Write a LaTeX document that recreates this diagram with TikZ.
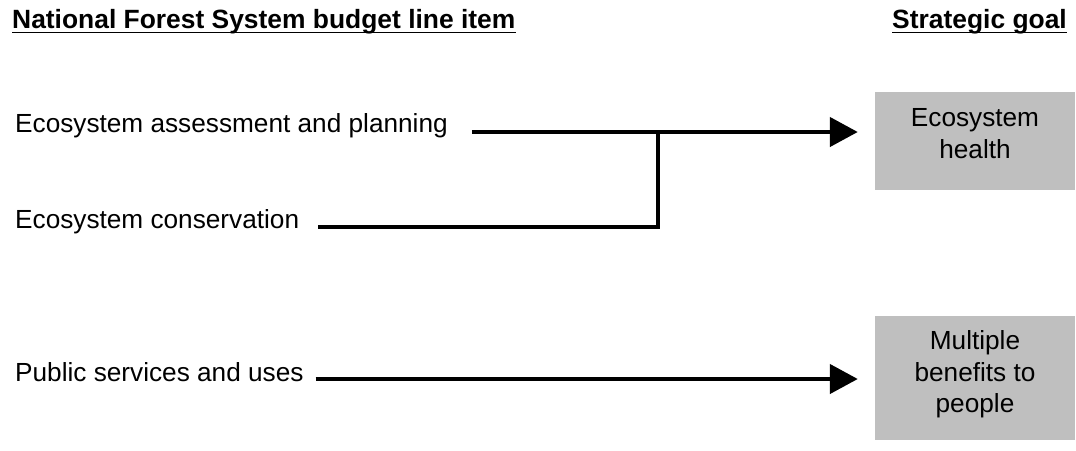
\documentclass[tikz,border=0pt]{standalone}
\usepackage{fontspec}
\setmainfont{Liberation Sans}
\usetikzlibrary{arrows.meta}
\newcommand{\boxtext}[2]{\raisebox{#1}[\height][\depth]{\begin{tabular}{@{}c@{}}#2\end{tabular}}}
\begin{document}
\begin{tikzpicture}[x=1pt,y=-1pt,
  lbl/.style={inner sep=0pt,anchor=base west,font=\fontsize{26.2}{31.5}\selectfont},
  hdr/.style={inner sep=0pt,font=\fontsize{26.4}{31.5}\selectfont\bfseries},
  goal/.style={fill=black!25,draw=none,minimum width=200pt,inner sep=0pt,align=center,font=\fontsize{26.2}{31.5}\selectfont},
  link/.style={line width=4.5pt},
  arr/.style={link,-{Triangle[length=28pt,width=29pt]}},
  uline/.style={line width=1.8pt}]
\useasboundingbox (0,0) rectangle (1076,450);
\node[hdr,anchor=base west] (t1) at (12,28) {National Forest System budget line item};
\node[hdr,anchor=base east] (t2) at (1067,28) {Strategic goal};
\draw[uline] ([yshift=-4.5pt]t1.base west) -- ([yshift=-4.5pt]t1.base east);
\draw[uline] ([yshift=-4.5pt]t2.base west) -- ([yshift=-4.5pt]t2.base east);
\node[lbl] (a) at (15,132) {Ecosystem assessment and planning};
\node[lbl] (c) at (15,228) {Ecosystem conservation};
\node[lbl] (p) at (15,381) {Public services and uses};
\node[goal,minimum height=98pt] (h) at (975,141) {\boxtext{5pt}{Ecosystem\\health}};
\node[goal,minimum height=124pt] (m) at (975,378) {\boxtext{3pt}{Multiple\\benefits to\\people}};
\coordinate (j) at (658,132);
\draw[arr,shorten <=24pt,shorten >=17pt] (a.base east) -- (a.base east -| h.west);
\draw[link,shorten <=19pt] ([yshift=1pt]c.base east) -| (j);
\draw[arr,shorten <=12pt,shorten >=17pt] ([yshift=2pt]p.base east) -- ([yshift=2pt]p.base east -| m.west);
\end{tikzpicture}
\end{document}
